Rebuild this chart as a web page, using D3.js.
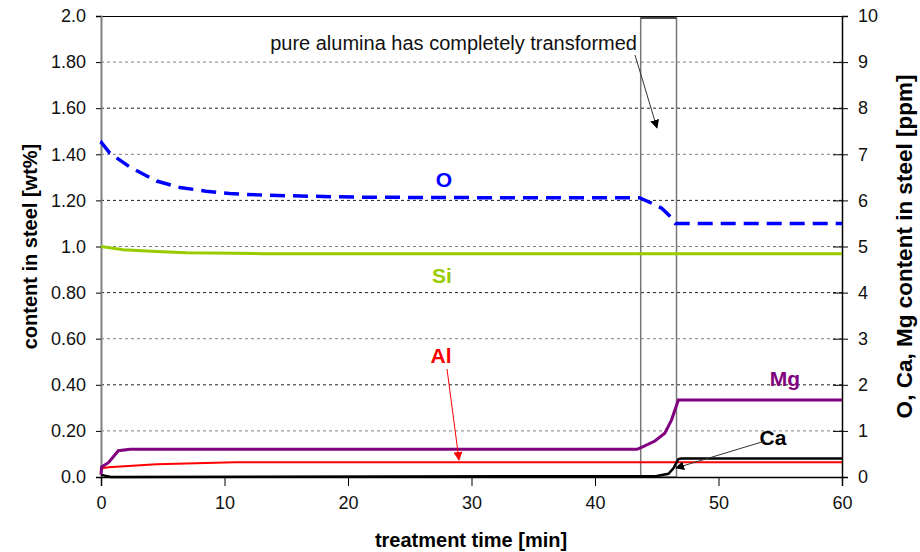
<!DOCTYPE html>
<html>
<head>
<meta charset="utf-8">
<script src="https://cdn.jsdelivr.net/npm/d3@7"></script>
<style>
  body { margin: 0; background: #fff; }
  text { font-family: "Liberation Sans", Arial, sans-serif; }
</style>
</head>
<body>
<div id="chart"></div>
<script>
// values
const leftTicks = ["0.0", "0.20", "0.40", "0.60", "0.80", "1.0", "1.20", "1.40", "1.60", "1.80", "2.0"];
const rightTicks = [0, 1, 2, 3, 4, 5, 6, 7, 8, 9, 10];
const timeTicks = [0, 10, 20, 30, 40, 50, 60];

// O [ppm] - right axis
const oTime = [0, 0.05, 0.7, 2.3, 4.5, 6.4, 8.5, 10.4, 12.6, 15.3, 20.7, 30, 43.6, 44.5, 45.4, 46.1, 46.5, 60];
const oPpm  = [7.22, 7.25, 7.03, 6.73, 6.42, 6.28, 6.2, 6.15, 6.12, 6.1, 6.07, 6.06, 6.06, 5.95, 5.83, 5.65, 5.5, 5.5];
// Si [wt%] - left axis
const siTime = [0, 1.8, 4.5, 6.9, 13.1, 60];
const siWt   = [1.0, 0.986, 0.978, 0.973, 0.969, 0.969];
// Al [wt%] - left axis
const alTime = [0, 0.05, 0.6, 4.5, 6.9, 10.85, 60];
const alWt   = [0.03, 0.038, 0.042, 0.055, 0.059, 0.064, 0.064];
// Mg [ppm] - right axis
const mgTime = [0, 0.05, 0.6, 1.0, 1.4, 2.35, 43.4, 43.9, 44.85, 45.65, 46.2, 46.75, 60];
const mgPpm  = [0.05, 0.22, 0.31, 0.44, 0.57, 0.6, 0.6, 0.66, 0.78, 0.95, 1.24, 1.67, 1.67];
// Ca [ppm] - right axis
const caTime = [0, 0.3, 0.8, 45, 45.95, 46.35, 46.75, 47, 60];
const caPpm  = [0.05, 0.03, 0, 0.02, 0.07, 0.19, 0.39, 0.4, 0.4];

// window where pure alumina transforms
const boxStart = 43.7, boxEnd = 46.6;

let margin = { top: 16, left: 101, right: 78, bottom: 75 },
    width = 920 - margin.left - margin.right,
    height = 552 - margin.top - margin.bottom;

let svg = d3.select("#chart").append("svg")
    .attr("width", 920).attr("height", 552);

let g = svg.append("g").attr("transform", "translate(" + margin.left + "," + margin.top + ")");

let x = d3.scaleLinear().domain([0, 60]).range([0, width]);
let yL = d3.scaleLinear().domain([0, 2]).range([height, 0]);
let yR = d3.scaleLinear().domain([0, 10]).range([height, 0]);

// grid lines
rightTicks.slice(1, -1).forEach(function(v, i) {
    g.append("line")
        .attr("x1", 0).attr("x2", width)
        .attr("y1", yR(v)).attr("y2", yR(v))
        .attr("stroke", i % 2 == 0 ? "#808080" : "#222")
        .attr("stroke-width", 1)
        .attr("stroke-dasharray", "3,3");
});

// top border
g.append("line").attr("x1", 0).attr("x2", width).attr("y1", 0.5).attr("y2", 0.5)
    .attr("stroke", "#000").attr("stroke-width", 1.2);

// box
g.append("rect")
    .attr("x", x(boxStart)).attr("y", 2)
    .attr("width", x(boxEnd) - x(boxStart)).attr("height", height - 2)
    .attr("fill", "none").attr("stroke", "#777").attr("stroke-width", 1.5);
g.append("line").attr("x1", x(boxStart)).attr("x2", x(boxEnd)).attr("y1", 2).attr("y2", 2)
    .attr("stroke", "#000").attr("stroke-width", 1);

// left axis
let leftAxis = g.append("g")
    .call(d3.axisLeft(yL).tickValues(d3.range(0, 11).map(function(i) { return i * 0.2; }))
        .tickSize(5).tickPadding(10).tickFormat(function(d, i) { return leftTicks[i]; }));
leftAxis.select(".domain").attr("stroke", "#808080").attr("stroke-width", 2);
leftAxis.selectAll("text").style("font-size", "18px").attr("fill", "#111");

// right axis
let rightAxis = g.append("g")
    .attr("transform", "translate(" + width + ",0)")
    .call(d3.axisRight(yR).tickValues(rightTicks).tickSize(6).tickPadding(10));
rightAxis.selectAll(".tick line").attr("x1", -9);
rightAxis.select(".domain").attr("stroke-width", 1.5);
rightAxis.selectAll("text").style("font-size", "18px").attr("fill", "#111");

// bottom axis
let bottomAxis = g.append("g")
    .attr("transform", "translate(0," + height + ")")
    .call(d3.axisBottom(x).tickValues(timeTicks).tickSize(9).tickPadding(10));
bottomAxis.select(".domain").attr("stroke-width", 1.5);
bottomAxis.selectAll(".tick").filter(function(d) { return d == 0; }).select("line").remove();
bottomAxis.selectAll("text").style("font-size", "18px").attr("fill", "#111");

// series
function path(times, vals, yScale) {
    return d3.line()
        .x(function(d) { return x(d[0]); })
        .y(function(d) { return yScale(d[1]); })(d3.zip(times, vals));
}

g.append("path").attr("d", path(siTime, siWt, yL))
    .attr("fill", "none").attr("stroke", "#99cc00").attr("stroke-width", 3);
g.append("path").attr("d", path(alTime, alWt, yL))
    .attr("fill", "none").attr("stroke", "#ff0000").attr("stroke-width", 2);
g.append("path").attr("d", path(caTime, caPpm, yR))
    .attr("fill", "none").attr("stroke", "#000").attr("stroke-width", 2.5);
g.append("path").attr("d", path(mgTime, mgPpm, yR))
    .attr("fill", "none").attr("stroke", "#800080").attr("stroke-width", 3);
g.append("path").attr("d", path(oTime, oPpm, yR))
    .attr("fill", "none").attr("stroke", "#0000ff").attr("stroke-width", 3.5)
    .attr("stroke-dasharray", "15,8");

// arrows
let defs = svg.append("defs");
function marker(id, color) {
    defs.append("marker")
        .attr("id", id).attr("viewBox", "0 0 10 10")
        .attr("refX", 9).attr("refY", 5)
        .attr("markerWidth", 9).attr("markerHeight", 9)
        .attr("markerUnits", "userSpaceOnUse")
        .attr("orient", "auto")
      .append("path").attr("d", "M0,0 L10,5 L0,10 z").attr("fill", color);
}
marker("arrowBlack", "#000");
marker("arrowRed", "#ff0000");

function arrow(x1, y1, x2, y2, color, id) {
    g.append("line")
        .attr("x1", x1 - margin.left).attr("y1", y1 - margin.top)
        .attr("x2", x2 - margin.left).attr("y2", y2 - margin.top)
        .attr("stroke", color).attr("stroke-width", 1)
        .attr("marker-end", "url(#" + id + ")");
}

// annotation
g.append("text")
    .attr("x", 637 - margin.left).attr("y", 50 - margin.top)
    .attr("text-anchor", "end")
    .style("font-size", "20px")
    .attr("fill", "#111")
    .text("pure alumina has completely transformed");
arrow(635, 55, 657, 128, "#333", "arrowBlack");

// series labels
function label(txt, px, py, color) {
    g.append("text")
        .attr("x", px - margin.left).attr("y", py - margin.top)
        .attr("text-anchor", "middle").attr("dy", "0.36em")
        .style("font-size", "21px").style("font-weight", "bold")
        .attr("fill", color).text(txt);
}
label("O", 444, 179, "#0000ff");
label("Si", 442, 275, "#99cc00");
label("Al", 441, 355, "#ff0000");
label("Mg", 785, 378, "#800080");
label("Ca", 773, 437, "#000");

arrow(447, 369, 459, 460, "#ff0000", "arrowRed");
arrow(765, 441, 676, 468, "#333", "arrowBlack");

// axis titles
svg.append("text")
    .attr("transform", "translate(37," + (margin.top + height / 2) + ") rotate(-90)")
    .attr("text-anchor", "middle")
    .style("font-size", "20px").style("font-weight", "bold")
    .text("content in steel [wt%]");

svg.append("text")
    .attr("transform", "translate(912," + (margin.top + height / 2) + ") rotate(-90)")
    .attr("text-anchor", "middle")
    .style("font-size", "22.5px").style("font-weight", "bold")
    .text("O, Ca, Mg content in steel [ppm]");

svg.append("text")
    .attr("x", 471).attr("y", 547)
    .attr("text-anchor", "middle")
    .style("font-size", "20px").style("font-weight", "bold")
    .text("treatment time [min]");
</script>
</body>
</html>
